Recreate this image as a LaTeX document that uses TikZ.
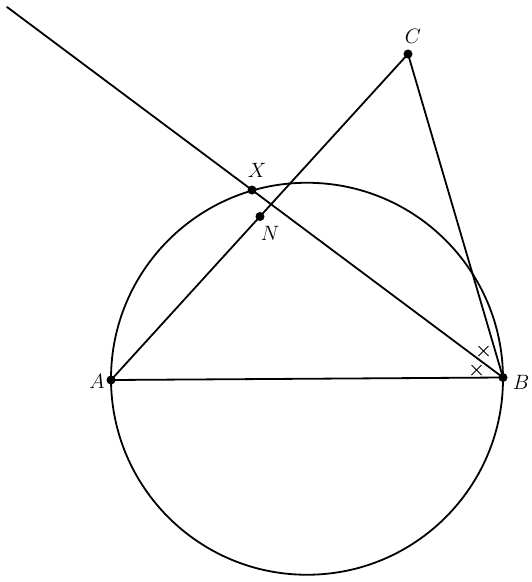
\documentclass[tikz,border=0pt]{standalone}
\begin{document}
\begin{tikzpicture}[x=1pt,y=-1pt,
  seg/.style={line width=1.8pt, line cap=round},
  dot/.style={circle, fill=black, inner sep=0pt, minimum size=9pt},
  lab/.style={font=\fontsize{21}{25}\selectfont},
  tick/.style={line width=0.8pt}]
\useasboundingbox (0,0) rectangle (532,582);
\coordinate (A) at (111,380);
\coordinate (B) at (503,377.5);
\coordinate (C) at (408,54);
\coordinate (X) at (252,190);
\coordinate (N) at (260,216.5);
\coordinate (O) at (307,378.75);
\coordinate (P) at (7,7);
\draw[seg] (O) circle (196);
\draw[seg] (A) -- (B) -- (C) -- cycle;
\draw[seg] (P) -- (B);
\node[dot] (dA) at (A) {};
\node[dot] (dB) at (B) {};
\node[dot] (dC) at (C) {};
\node[dot] (dX) at (X) {};
\node[dot] (dN) at (N) {};
\node[lab] (lA) at (97,381) {$A$};
\node[lab] (lB) at (521,382) {$B$};
\node[lab] (lC) at (413,36) {$C$};
\node[lab] (lX) at (257,170) {$X$};
\node[lab] (lN) at (270,233) {$N$};
\draw[tick] (478.5,346) -- (488.5,356) (478.5,356) -- (488.5,346);
\draw[tick] (471.5,365) -- (481.5,375) (471.5,375) -- (481.5,365);
\end{tikzpicture}
\end{document}
